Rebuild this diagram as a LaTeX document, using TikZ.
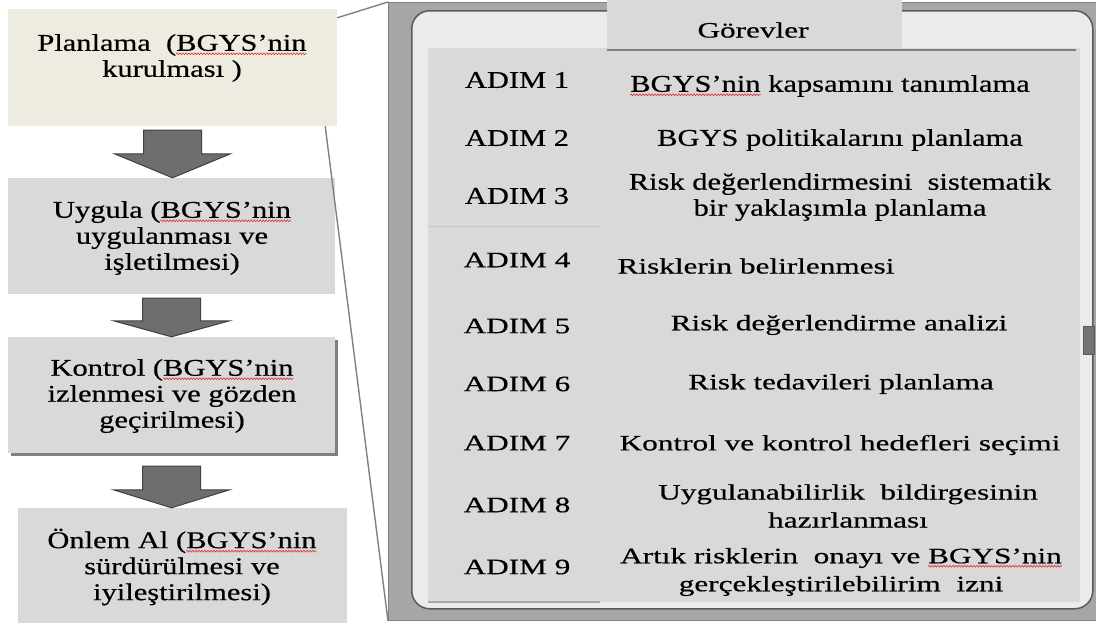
\documentclass[tikz,border=0pt]{standalone}
\usepackage{fontspec}
\usetikzlibrary{calc,shadows,decorations.pathmorphing}
\setmainfont{Liberation Serif}
\newfontfamily\widebig{Liberation Serif}[FakeStretch=1.27,FakeBold=0.5]
\newfontfamily\widesmall{Liberation Serif}[FakeStretch=1.42,FakeBold=0.5]

\definecolor{spellred}{HTML}{E03030}
\definecolor{planbeige}{HTML}{EEECE1}
\definecolor{stagegray}{HTML}{D9D9D9}
\definecolor{arrowgray}{HTML}{6E6E6E}
\definecolor{arrowedge}{HTML}{404040}
\definecolor{framegray}{HTML}{A6A6A6}
\definecolor{framedark}{HTML}{7F7F7F}
\definecolor{innerlight}{HTML}{EBEBEB}
\definecolor{borderdark}{HTML}{5A5A5A}
\definecolor{zoomgray}{HTML}{808080}

% red spell-check squiggle under a word
\newcommand\spellmark[1]{\tikz[baseline=(sw.base)]{%
  \node[inner sep=0pt, outer sep=0pt, minimum width=0pt, minimum height=0pt,
    shape=rectangle, align=left] (sw) {#1};
  \draw[overlay, spellred, line width=0.6pt, decorate,
    decoration={zigzag, amplitude=0.9pt, segment length=3pt}]
    ([yshift=-3pt]sw.base west) -- ([yshift=-3pt]sw.base east);}}

% block arrow between two stages: source, target, gap below source, head length
\newcommand\flowarrow[4]{%
  \draw[blockarrow] ($(#1.south)+(-29,#3)$) -- ++(58,0)
    -- ($(#1.south |- #2.north)+(29,-#4)$) -- ++(29,0)
    -- (#1.south |- #2.north) -- ++(-58,-#4) -- ++(29,0) -- cycle;}

\begin{document}
\begin{tikzpicture}[x=1pt,y=-1pt,
  stage/.style={fill=stagegray, inner sep=0pt},
  bigtext/.style={inner sep=0pt, align=center, font=\widebig\fontsize{24}{26}\selectfont},
  smalltext/.style={inner sep=0pt, align=center, font=\widesmall\fontsize{22}{28}\selectfont},
  blockarrow/.style={fill=arrowgray, draw=arrowedge, line width=1pt, line join=miter},
  zoomline/.style={draw=zoomgray, line width=1.4pt},
]
\useasboundingbox (0,0) rectangle (1096,630);

% ---- left column: PDCA stages ----
\node[stage, fill=planbeige, minimum width=329pt, minimum height=117pt] (plan) at (172.5,67.5) {};
\node[stage, minimum width=327pt, minimum height=116pt] (do) at (171.5,236) {};
\node[stage, minimum width=327pt, minimum height=116pt,
  drop shadow={shadow xshift=3pt, shadow yshift=-3pt, fill=framedark, opacity=1}] (check) at (171.5,395) {};
\node[stage, minimum width=329pt, minimum height=115pt] (act) at (182.5,565.5) {};

\node[bigtext] (plantext) at (172,58) {Planlama\ \ (\spellmark{BGYS’nin}\\kurulması )};
\node[bigtext] (dotext) at (172,238) {Uygula (\spellmark{BGYS’nin}\\uygulanması ve\\işletilmesi)};
\node[bigtext] (checktext) at (172,396) {Kontrol (\spellmark{BGYS’nin}\\izlenmesi ve gözden\\geçirilmesi)};
\node[bigtext] (acttext) at (182,567) {Önlem Al (\spellmark{BGYS’nin}\\sürdürülmesi ve\\iyileştirilmesi)};

\flowarrow{plan}{do}{4}{24}
\flowarrow{do}{check}{4}{16}
\flowarrow{check}{act}{13}{18}

% ---- right panel ----
\node[draw=framedark, fill=framegray, line width=1pt, minimum width=708pt, minimum height=618pt,
  inner sep=0pt, anchor=north west] (frame) at (388,2) {};
\node[draw=borderdark, fill=innerlight, line width=1.5pt, rounded corners=18pt,
  minimum width=681pt, minimum height=598pt, inner sep=0pt, anchor=north west] (panel) at (411,10) {};
\node[fill=stagegray, minimum width=652pt, minimum height=554pt, inner sep=0pt,
  anchor=north west] (table) at (428,48) {};
\node[fill=stagegray, minimum width=295pt, minimum height=48pt, inner sep=0pt,
  anchor=north west] (header) at (607,0) {};
\node[fill=black!55, draw=borderdark, line width=0.8pt, minimum width=11pt, minimum height=28pt,
  inner sep=0pt, anchor=north west] (grip) at (1083,326) {};
\draw[framedark, line width=1.6pt] (607,50) -- (1076,50);
\draw[black!22, line width=1pt] (428,226) -- (600,226);
\draw[black!35, line width=1.5pt] (428,602) -- (600,602);

\node[smalltext] (headtext) at (753,30) {Görevler};

% zoom connectors from the planning stage to the panel
\draw[zoomline] ([yshift=-9pt]plan.north east) -- (frame.north west);
\draw[zoomline] ([xshift=-12pt]plan.south east) -- (frame.south west);

% ---- steps ----
\node[bigtext] (step1) at (517,80) {ADIM 1};
\node[bigtext] (step2) at (517,138) {ADIM 2};
\node[bigtext] (step3) at (517,196) {ADIM 3};
\node[smalltext] (step4) at (517,260) {ADIM 4};
\node[smalltext] (step5) at (517,326) {ADIM 5};
\node[smalltext] (step6) at (517,384) {ADIM 6};
\node[smalltext] (step7) at (517,443) {ADIM 7};
\node[smalltext] (step8) at (517,505) {ADIM 8};
\node[smalltext] (step9) at (517,567) {ADIM 9};

\node[bigtext] (task1) at (830,86) {\spellmark{BGYS’nin} kapsamını tanımlama};
\node[bigtext] (task2) at (840,140) {BGYS politikalarını planlama};
\node[bigtext] (task3) at (840,197) {Risk değerlendirmesini\ \ sistematik\\bir yaklaşımla planlama};
\node[smalltext] (task4) at (756,266) {Risklerin belirlenmesi};
\node[smalltext] (task5) at (839,325) {Risk değerlendirme analizi};
\node[smalltext] (task6) at (841,384) {Risk tedavileri planlama};
\node[smalltext] (task7) at (840,445) {Kontrol ve kontrol hedefleri seçimi};
\node[smalltext] (task8) at (848,506) {Uygulanabilirlik\ \ bildirgesinin\\hazırlanması};
\node[smalltext] (task9) at (841,572) {Artık risklerin\ \ onayı ve \spellmark{BGYS’nin}\\gerçekleştirilebilirim\ \ izni};
\end{tikzpicture}
\end{document}
